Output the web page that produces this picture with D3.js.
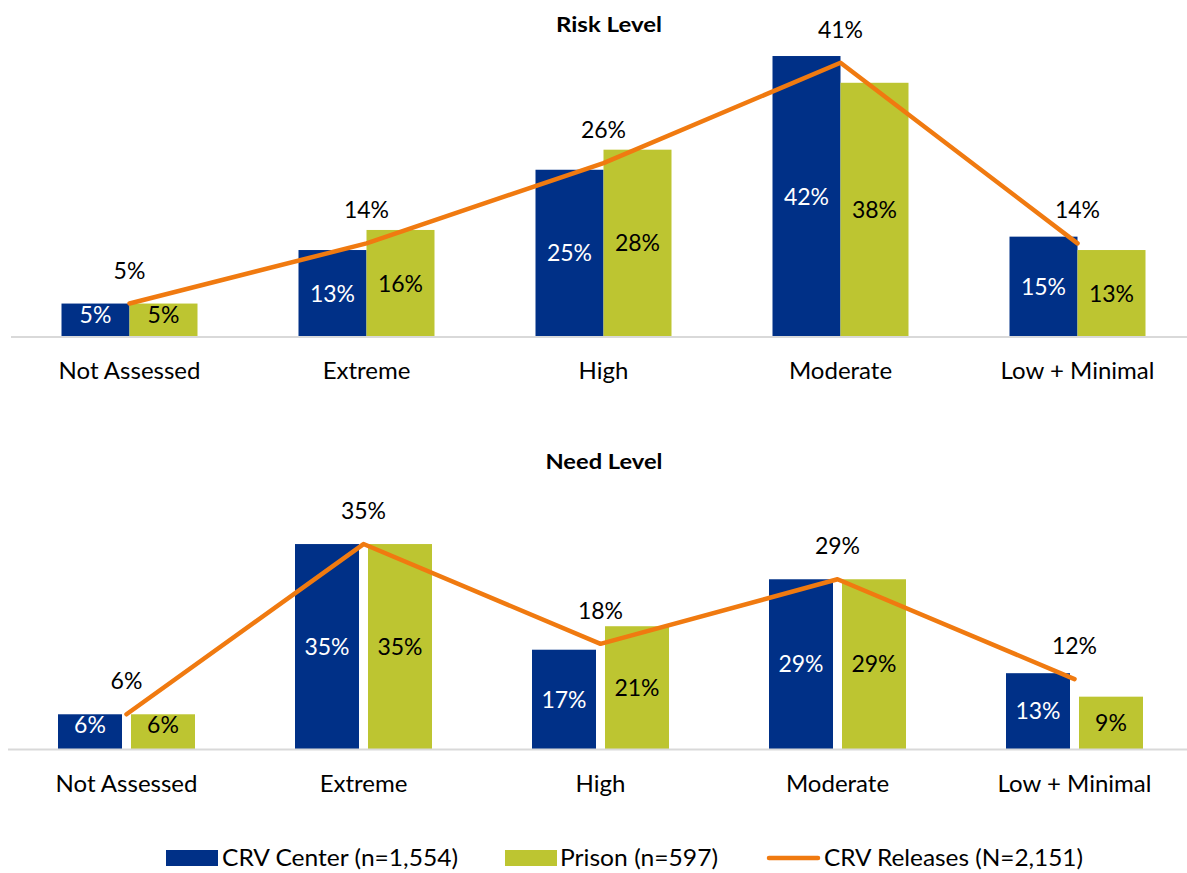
<!DOCTYPE html>
<html><head><meta charset="utf-8">
<script src="https://cdn.jsdelivr.net/npm/d3@7"></script>
<style>body{margin:0;background:#fff;}svg{display:block;font-family:Lato,"Open Sans",sans-serif;}</style>
</head><body>
<svg id="c" width="1187" height="873"></svg>
<script>
const categories = ["Not Assessed","Extreme","High","Moderate","Low + Minimal"];
const riskCenter = [5,13,25,42,15];
const riskPrison = [5,16,28,38,13];
const riskReleases = [5,14,26,41,14];
const needCenter = [6,35,17,29,13];
const needPrison = [6,35,21,29,9];
const needReleases = [6,35,18,29,12];
const seriesNames = ["CRV Center (n=1,554)","Prison (n=597)","CRV Releases (N=2,151)"];
const colors = {center:"#003087", prison:"#BDC531", line:"#F07A10", axis:"#D9D9D9"};

const svg = d3.select("#c");

function panel(cfg){
  const g = svg.append("g");
  const x = d3.scaleBand().domain(categories).range([cfg.x0, cfg.x1]);
  const y = d3.scaleLinear().domain([0, cfg.ymax]).range([cfg.base, cfg.base - cfg.ymax*cfg.ppu]);
  const bw = cfg.bw, gap = cfg.gap;
  const cx = c => x(c) + x.bandwidth()/2;

  g.append("text").attr("x", cfg.titleX).attr("y", cfg.titleY).attr("text-anchor","middle")
    .attr("font-weight","bold").attr("font-size",21).attr("fill","#000")
    .attr("textLength", cfg.titleW).attr("lengthAdjust","spacingAndGlyphs").text(cfg.title);

  const series = [
    {vals: cfg.center, color: colors.center, txt:"#fff", off: -gap/2 - bw},
    {vals: cfg.prison, color: colors.prison, txt:"#000", off: gap/2}
  ];
  series.forEach(s => {
    g.selectAll(null).data(categories).enter().append("rect")
      .attr("x", c => cx(c) + s.off).attr("width", bw)
      .attr("y", (c,i) => y(s.vals[i])).attr("height", (c,i) => y(0) - y(s.vals[i]))
      .attr("fill", s.color);
    g.selectAll(null).data(categories).enter().append("text")
      .attr("x", c => cx(c) + s.off + bw/2)
      .attr("y", (c,i) => { const t=y(s.vals[i]), h=y(0)-t; return (h<45 ? t+11 : t+h/2); })
      .attr("dy","0.35em").attr("text-anchor","middle").attr("font-size",23).attr("fill", s.txt)
      .text((c,i) => s.vals[i] + "%");
  });

  // axis
  const ax = g.append("g").attr("transform",`translate(0,${cfg.base})`)
    .call(d3.axisBottom(x).tickSize(0).tickPadding(0));
  ax.select(".domain").attr("stroke", colors.axis).attr("stroke-width",2).attr("d",`M${cfg.x0},0H${cfg.x1}`);
  ax.selectAll(".tick text").attr("font-size",24).attr("fill","#000").attr("font-family","Lato,'Open Sans',sans-serif")
    .attr("y", 34).attr("dy","0.35em");

  // line
  const line = d3.line().x(c => cx(c)).y((c,i) => y(cfg.releases[i]));
  g.append("path").datum(categories).attr("d", line).attr("fill","none")
    .attr("stroke", colors.line).attr("stroke-width",4.5).attr("stroke-linecap","round").attr("stroke-linejoin","round");
  g.selectAll(null).data(categories).enter().append("text")
    .attr("x", c => cx(c)).attr("y",(c,i)=> y(cfg.releases[i]) - 33).attr("dy","0.35em")
    .attr("text-anchor","middle").attr("font-size",23).attr("fill","#000")
    .text((c,i)=> cfg.releases[i] + "%");
}

panel({title:"Risk Level", titleX:609, titleY:32, titleW:106, x0:11, x1:1196, base:337, ppu:6.69, ymax:45, bw:68, gap:0,
  center:riskCenter, prison:riskPrison, releases:riskReleases});
panel({title:"Need Level", titleX:604, titleY:469, titleW:117, x0:8, x1:1193, base:749.5, ppu:5.87, ymax:40, bw:64, gap:9,
  center:needCenter, prison:needPrison, releases:needReleases});

// legend
const leg = svg.append("g");
const ly = 858;
const items = [
  {type:"rect", color:colors.center, x:166, tx:222, w:236, name:seriesNames[0]},
  {type:"rect", color:colors.prison, x:505, tx:560, w:158, name:seriesNames[1]},
  {type:"line", color:colors.line, x:767, tx:824, w:259, name:seriesNames[2]}
];
items.forEach(it => {
  if (it.type==="rect") leg.append("rect").attr("x",it.x).attr("y",ly-8).attr("width",52).attr("height",16).attr("fill",it.color);
  else leg.append("line").attr("x1",it.x+2).attr("x2",it.x+51).attr("y1",ly).attr("y2",ly).attr("stroke",it.color).attr("stroke-width",4.5).attr("stroke-linecap","round");
  leg.append("text").attr("x",it.tx).attr("y",ly).attr("dy","0.35em").attr("font-size",23).attr("fill","#000")
    .attr("textLength", it.w).attr("lengthAdjust","spacingAndGlyphs").text(it.name);
});
</script>
</body></html>
